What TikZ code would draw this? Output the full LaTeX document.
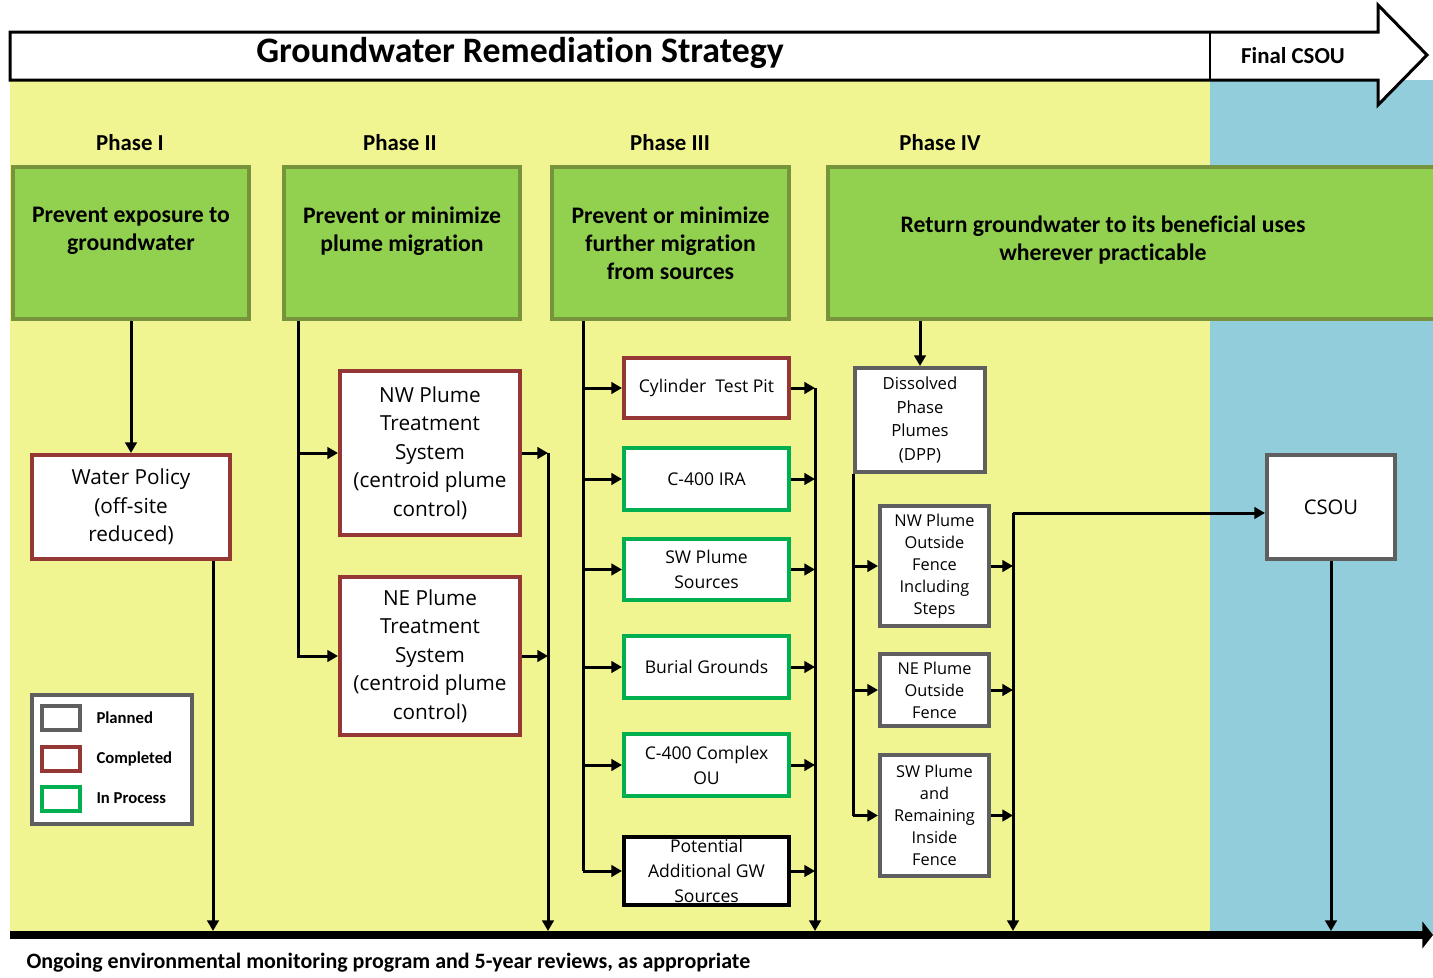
\documentclass[tikz,border=0pt]{standalone}
\usepackage{fontspec}
\setmainfont{Carlito}[Ligatures=NoCommon]
\newfontfamily\boxfont{Open Sans}
\usetikzlibrary{arrows.meta}

\newlength{\unitpx}
\setlength{\unitpx}{0.02cm}

\definecolor{paleyellow}{RGB}{240,245,145}
\definecolor{paleblue}{RGB}{146,205,220}
\definecolor{leafgreen}{RGB}{146,208,80}
\definecolor{olivegreen}{RGB}{119,147,60}
\definecolor{rustred}{RGB}{149,55,53}
\definecolor{brightgreen}{RGB}{0,176,80}
\definecolor{plangray}{RGB}{95,95,95}

\begin{document}
\begin{tikzpicture}[x=0.02cm, y=-0.02cm, line width=3\unitpx]

    \tikzset{box/.style={%
      draw,%
      rectangle,%
      fill=white,%
      line width=4\unitpx,%
      align=center,%
      inner sep=0pt,%
      font=\boxfont\fontsize{11.8}{16.2}\selectfont}%
    };

    \tikzset{done/.style={draw=rustred}};
    \tikzset{active/.style={draw=brightgreen}};
    \tikzset{planned/.style={draw=plangray}};
    \tikzset{srcbox/.style={box, minimum width=165\unitpx, font=\boxfont\fontsize{10}{14.2}\selectfont}};
    \tikzset{plumebox/.style={box, planned, minimum width=109\unitpx, font=\boxfont\fontsize{9.3}{12.5}\selectfont}};
    \tikzset{goal/.style={box, fill=leafgreen, draw=olivegreen, minimum height=152\unitpx,%
      font=\bfseries\fontsize{13.5}{16}\selectfont}};
    \tikzset{goaltext/.style={align=center, inner sep=0pt, font=\bfseries\fontsize{13.5}{16}\selectfont}};
    \tikzset{phase/.style={font=\bfseries\fontsize{13}{16}\selectfont}};
    \tikzset{key/.style={draw, fill=white, line width=4\unitpx, minimum width=38\unitpx, minimum height=24\unitpx}};
    \tikzset{keylabel/.style={anchor=west, inner sep=0pt, font=\bfseries\fontsize{9.5}{11}\selectfont}};
    \tikzset{arr/.style={-{Triangle[length=6pt,width=6.5pt]}}};

    \useasboundingbox (0,0) rectangle (1433,977);

    %%%%%%%%%%%%%%%
    % backgrounds %
    %%%%%%%%%%%%%%%
    \fill[paleyellow] (10,80) rectangle (1210,935);
    \fill[paleblue] (1210,80) rectangle (1433,935);

    %%%%%%%%%%%%%%%
    % title arrow %
    %%%%%%%%%%%%%%%
    \draw[line width=3\unitpx, fill=white] (10,32) -- (1378,32) -- (1378,5) -- (1427,55)
      -- (1378,105) -- (1378,80) -- (10,80) -- cycle;
    \draw[line width=2\unitpx] (1210,32) -- (1210,80);
    \node[font=\bfseries\fontsize{20.4}{24}\selectfont] (title) at (520,53) {Groundwater Remediation Strategy};
    \node[font=\bfseries\fontsize{13}{16}\selectfont] (final) at (1293,56) {Final CSOU};

    %%%%%%%%%%
    % phases %
    %%%%%%%%%%
    \node[phase] (ph1) at (130,143) {Phase I};
    \node[phase] (ph2) at (400,143) {Phase II};
    \node[phase] (ph3) at (670,143) {Phase III};
    \node[phase] (ph4) at (940,143) {Phase IV};

    \node[goal, minimum width=236\unitpx] (goal1) at (131,243) {Prevent exposure to\\groundwater\\\mbox{}};
    \node[goal, minimum width=236\unitpx] (goal2) at (402,243) {Prevent or minimize\\plume migration\\\mbox{}};
    \node[goal, minimum width=237\unitpx] (goal3) at (670.5,243) {Prevent or minimize\\further migration\\from sources};
    \node[goal, minimum width=615\unitpx] (goal4) at (1135.5,243) {};
    \node[goaltext] (goal4text) at (1103,240) {Return groundwater to its beneficial uses\\wherever practicable};

    %%%%%%%%%%%
    % actions %
    %%%%%%%%%%%
    \node[box, done, minimum width=198\unitpx, minimum height=104\unitpx] (policy) at (131,507)
      {Water Policy\\(off-site\\reduced)};

    \node[box, done, minimum width=180\unitpx, minimum height=164\unitpx] (nwts) at (430,453)
      {NW Plume\\Treatment\\System\\(centroid plume\\control)};
    \node[box, done, minimum width=180\unitpx, minimum height=158\unitpx] (nets) at (430,656)
      {NE Plume\\Treatment\\System\\(centroid plume\\control)};

    \node[srcbox, done, minimum height=60\unitpx] (pit) at (706.5,388) {Cylinder\ \ Test Pit};
    \node[srcbox, active, minimum height=62\unitpx] (ira) at (706.5,479) {C-400 IRA};
    \node[srcbox, active, minimum height=61\unitpx] (swsrc) at (706.5,569.5) {SW Plume\\Sources};
    \node[srcbox, active, minimum height=62\unitpx] (burial) at (706.5,667) {Burial Grounds};
    \node[srcbox, active, minimum height=62\unitpx] (complex) at (706.5,765) {C-400 Complex\\OU};
    \node[srcbox, draw=black, minimum height=68\unitpx] (extra) at (706.5,871)
      {Potential\\Additional GW\\Sources};

    \node[box, planned, minimum width=130\unitpx, minimum height=104\unitpx,
      font=\boxfont\fontsize{9.5}{13.6}\selectfont] (dpp) at (920,420)
      {Dissolved\\Phase\\Plumes\\(DPP)};
    \node[plumebox, minimum height=120\unitpx] (nwfence) at (934.5,566)
      {NW Plume\\Outside\\Fence\\Including\\Steps};
    \node[plumebox, minimum height=72\unitpx] (nefence) at (934.5,690)
      {NE Plume\\Outside\\Fence};
    \node[plumebox, minimum height=121\unitpx] (swfence) at (934.5,815.5)
      {SW Plume\\and\\Remaining\\Inside\\Fence};

    \node[box, planned, minimum width=128\unitpx, minimum height=104\unitpx,
      font=\boxfont\fontsize{11.5}{14}\selectfont] (csou) at (1331,507) {CSOU};

    %%%%%%%%%%
    % legend %
    %%%%%%%%%%
    \node[box, planned, minimum width=160\unitpx, minimum height=129\unitpx] (legend) at (112,759.5) {};
    \node[key, planned] (keyplan) at (61,718) {};
    \node[key, done] (keydone) at (61,759) {};
    \node[key, active] (keyactive) at (61,798.5) {};
    \node[keylabel] (labplan) at (95,718) {Planned};
    \node[keylabel] (labdone) at (95,759) {Completed};
    \node[keylabel] (labactive) at (95,798) {In Process};

    %%%%%%%%%%%%%%
    % monitoring %
    %%%%%%%%%%%%%%
    \coordinate (mon-w) at (10,935);
    \coordinate (mon-e) at (1433,935);
    \coordinate (base) at (10,931);
    \draw[line width=8\unitpx, -{Triangle[length=6pt,width=15pt]}] (mon-w) -- (mon-e);
    \node[anchor=west, inner sep=0pt, font=\bfseries\fontsize{12.5}{15}\selectfont] (montext) at (25,963)
      {Ongoing environmental monitoring program and 5-year reviews, as appropriate};

    %%%%%%%%%%%%%%
    % connectors %
    %%%%%%%%%%%%%%
    \coordinate (bus1) at (213,0);
    \coordinate (bus2a) at (298,0);
    \coordinate (bus2b) at (548,0);
    \coordinate (bus3a) at (583,0);
    \coordinate (bus3b) at (815,0);
    \coordinate (bus4b) at (1013,0);

    \draw[arr] (goal1.south) -- (policy.north);
    \draw[arr] (policy.south -| bus1) -- (bus1 |- base);

    \draw[arr] (goal2.south -| bus2a) |- (nets.west);
    \draw[arr] (bus2a |- nwts.west) -- (nwts.west);
    \draw[arr] (nwts.east) -- (nwts.east -| bus2b);
    \draw[arr] (nets.east) -- (nets.east -| bus2b);
    \draw[arr] (nwts.east -| bus2b) -- (bus2b |- base);

    \draw (goal3.south -| bus3a) -- (bus3a |- extra.west);
    \foreach \src in {pit,ira,swsrc,burial,complex,extra}{
      \draw[arr] (bus3a |- \src.west) -- (\src.west);
      \draw[arr] (\src.east) -- (\src.east -| bus3b);
    }
    \draw[arr] (pit.east -| bus3b) -- (bus3b |- base);

    \draw[arr] (goal4.south -| dpp.north) -- (dpp.north);
    \draw (dpp.south west) -- (dpp.south west |- swfence.west);
    \foreach \pl in {nwfence,nefence,swfence}{
      \draw[arr] (dpp.south west |- \pl.west) -- (\pl.west);
      \draw[arr] (\pl.east) -- (\pl.east -| bus4b);
    }
    \draw[arr] ([yshift=-6\unitpx]bus4b |- csou.west) -- ([yshift=-6\unitpx]csou.west);
    \draw[arr] ([yshift=-6\unitpx]bus4b |- csou.west) -- (bus4b |- base);
    \draw[arr] (csou.south) -- (csou.south |- base);

  \end{tikzpicture}
\end{document}
